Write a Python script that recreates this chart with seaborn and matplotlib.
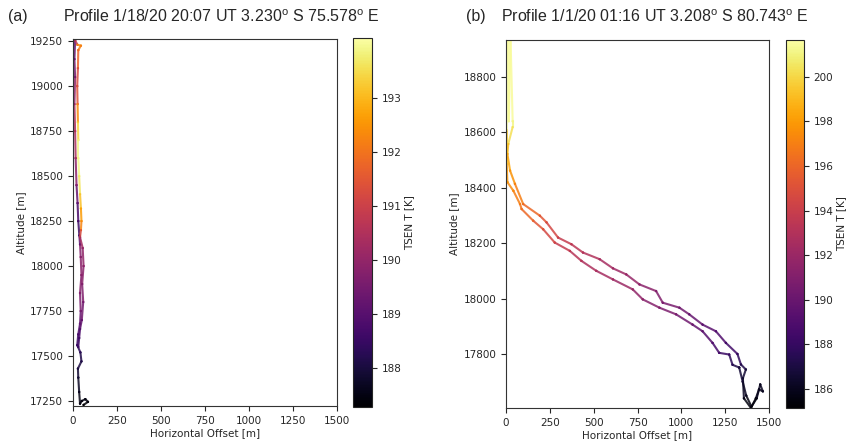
import numpy as np
import pandas as pd
import matplotlib
matplotlib.use("Agg")
import matplotlib.pyplot as plt
import seaborn as sns
from matplotlib.collections import LineCollection
from matplotlib.colors import Normalize
from matplotlib.cm import ScalarMappable

# ---------------- data ----------------
# Panel (a): horizontal offset [m], altitude [m], TSEN temperature [K]
a_x = [60, 85, 70, 50, 40, 35, 30, 28, 48, 42, 24, 30, 40, 44, 40, 48, 44, 40, 36, 30,
       26, 20, 15, 12, 8, 12, 8, 12,
       25, 45, 30, 28, 24, 26, 28, 30, 30, 35, 40, 45, 48, 45, 40, 55, 60, 52, 58, 50, 40, 35, 30]
a_y = [17228, 17245, 17260, 17250, 17235, 17300, 17380, 17430, 17470, 17520, 17560, 17620, 17680,
       17750, 17850, 17950, 18050, 18120, 18170, 18250, 18350, 18450, 18600, 18750, 18900, 19050,
       19150, 19255,
       19230, 19225, 19200, 19100, 19000, 18900, 18800, 18700, 18600, 18500, 18400, 18320, 18250,
       18200, 18160, 18100, 18000, 17900, 17800, 17700, 17650, 17600, 17550]
a_t = [187.3, 187.4, 187.5, 187.5, 187.4, 187.6, 187.8, 188.0, 188.1, 188.2, 188.4, 188.7, 189.0,
       189.5, 189.7, 189.8, 189.9, 189.6, 188.6, 188.5, 189.0, 189.5, 190.2, 190.6, 190.3, 189.6,
       189.3, 189.0,
       192.5, 192.3, 192.0, 191.5, 191.0, 191.8, 193.0, 193.8, 194.0, 193.8, 193.5, 192.7, 192.5,
       192.0, 190.5, 190.0, 189.9, 189.8, 189.6, 189.3, 189.0, 188.7, 188.5]

# Panel (b)
b_x = [1330, 1292, 1273, 1216, 1178, 1121, 1064, 970, 875, 780, 723, 610, 515, 430, 364, 278,
       212, 155, 89, 80, 42, 8, 4, 4, 5, 14, 16, 26, 38,
       38, 13, 8, 23, 51, 98, 193, 231, 297, 373, 439, 534, 610, 686, 761, 856, 894, 989, 1045,
       1121, 1197, 1254, 1320, 1340, 1368, 1351, 1357, 1397, 1425, 1443, 1465, 1450, 1430, 1400,
       1370, 1350, 1330]
b_y = [17751, 17761, 17798, 17804, 17840, 17882, 17906, 17943, 17967, 17997, 18033, 18069, 18100,
       18136, 18172, 18202, 18250, 18281, 18323, 18341, 18389, 18420, 18486, 18607, 18933, 18933,
       18640, 18933, 18640,
       18619, 18558, 18522, 18462, 18414, 18341, 18299, 18275, 18220, 18196, 18166, 18142, 18109,
       18087, 18051, 18027, 17985, 17967, 17943, 17906, 17882, 17840, 17800, 17762, 17744, 17712,
       17640, 17605, 17640, 17672, 17665, 17690, 17640, 17610, 17650, 17700, 17751]
b_t = [187.0, 187.3, 188.0, 188.3, 189.0, 189.5, 190.0, 190.6, 191.0, 191.4, 191.8, 192.3, 192.6,
       193.0, 193.5, 194.0, 195.0, 195.6, 196.5, 196.7, 197.2, 197.6, 198.2, 201.0, 201.6, 201.6,
       201.2, 201.6, 201.2,
       201.0, 199.5, 198.8, 198.0, 197.4, 196.5, 195.6, 195.0, 194.0, 193.6, 193.2, 192.8, 192.3,
       192.0, 191.6, 191.2, 190.8, 190.5, 190.0, 189.6, 189.2, 188.8, 188.0, 187.5, 187.0, 186.5,
       185.8, 185.3, 185.6, 186.0, 186.0, 186.3, 185.7, 185.4, 185.9, 186.4, 187.0]

titles = ["Profile 1/18/20 20:07 UT 3.230$^{\\rm o}$ S 75.578$^{\\rm o}$ E",
          "Profile 1/1/20 01:16 UT 3.208$^{\\rm o}$ S 80.743$^{\\rm o}$ E"]
panel_tags = ["(a)", "(b)"]
x_ticks = [0, 250, 500, 750, 1000, 1250, 1500]
a_yticks = [17250, 17500, 17750, 18000, 18250, 18500, 18750, 19000, 19250]
b_yticks = [17800, 18000, 18200, 18400, 18600, 18800]
a_cticks = [188, 189, 190, 191, 192, 193]
b_cticks = [186, 188, 190, 192, 194, 196, 198, 200]
a_lim = dict(y=(17222, 19262), t=(187.28, 194.11))
b_lim = dict(y=(17605, 18933), t=(185.15, 201.65))

# ---------------- style ----------------
sns.set_theme(style="ticks")
plt.rcParams["font.family"] = ["DejaVu Sans"]
plt.rcParams["mathtext.fontset"] = "custom"
plt.rcParams["mathtext.rm"] = "Liberation Sans"
plt.rcParams["xtick.labelsize"] = 7.5
plt.rcParams["ytick.labelsize"] = 7.5
plt.rcParams["axes.labelsize"] = 7.5
plt.rcParams["axes.linewidth"] = 0.8
plt.rcParams["xtick.major.size"] = 3.5
plt.rcParams["ytick.major.size"] = 3.5
plt.rcParams["xtick.major.width"] = 0.8
plt.rcParams["ytick.major.width"] = 0.8

W, H = 849, 445
fig = plt.figure(figsize=(W / 100, H / 100), dpi=100)

def box(l, t, r, b):
    return [l / W, 1 - b / H, (r - l) / W, (b - t) / H]

ax_a = fig.add_axes(box(73, 39, 337, 406))
cax_a = fig.add_axes(box(353, 38, 372, 407))
ax_b = fig.add_axes(box(506, 40, 769, 408))
cax_b = fig.add_axes(box(786, 40, 804, 408))

cmap = plt.get_cmap("inferno")

def draw(ax, cax, xs, ys, ts, lim, yticks, cticks, lw):
    x = np.asarray(xs, float)
    y = np.asarray(ys, float)
    t = np.asarray(ts, float)
    norm = Normalize(*lim["t"])
    pts = np.column_stack([x, y]).reshape(-1, 1, 2)
    segs = np.concatenate([pts[:-1], pts[1:]], axis=1)
    lc = LineCollection(segs, cmap=cmap, norm=norm, linewidths=lw, capstyle="round",
                        joinstyle="round", alpha=0.85)
    lc.set_array(0.5 * (t[:-1] + t[1:]))
    ax.add_collection(lc)
    df = pd.DataFrame({"x": x, "y": y, "T": t})
    sns.scatterplot(data=df, x="x", y="y", hue="T", palette="inferno", hue_norm=norm,
                    s=3, linewidth=0, legend=False, ax=ax)
    ax.set_xlim(0, 1500)
    ax.set_ylim(*lim["y"])
    ax.set_xticks(x_ticks)
    ax.set_yticks(yticks)
    ax.set_xlabel("Horizontal Offset [m]", labelpad=2)
    ax.set_ylabel("Altitude [m]", labelpad=3)
    cb = fig.colorbar(ScalarMappable(norm=norm, cmap=cmap), cax=cax)
    cb.set_ticks(cticks)
    cb.set_label("TSEN T [K]", fontsize=7.5, labelpad=2)
    cb.outline.set_linewidth(0.8)
    for s in ax.spines.values():
        s.set_color("#333333")

draw(ax_a, cax_a, a_x, a_y, a_t, a_lim, a_yticks, a_cticks, 1.5)
draw(ax_b, cax_b, b_x, b_y, b_t, b_lim, b_yticks, b_cticks, 1.5)

tfont = dict(family="Liberation Sans", fontsize=11.5)
fig.text(221 / W, 1 - 17 / H, titles[0], ha="center", va="center", **tfont)
fig.text(655 / W, 1 - 17 / H, titles[1], ha="center", va="center", **tfont)
fig.text(8 / W, 1 - 17 / H, panel_tags[0], ha="left", va="center", **tfont)
fig.text(466 / W, 1 - 17 / H, panel_tags[1], ha="left", va="center", **tfont)

fig.savefig("out.png", dpi=100)
